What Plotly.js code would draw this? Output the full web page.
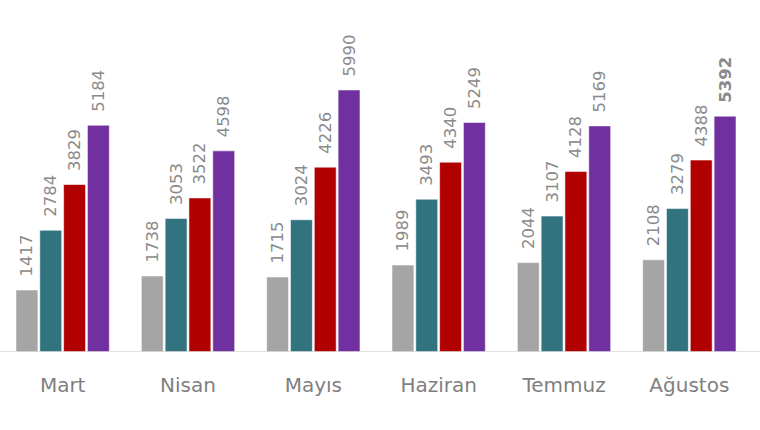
<!DOCTYPE html>
<html>
<head>
<meta charset="utf-8">
<script src="https://cdn.plot.ly/plotly-3.0.1.min.js"></script>
<style>
  html, body { margin: 0; padding: 0; background: #fff; }
  #chart { width: 760px; height: 430px; }
</style>
</head>
<body>
<div id="chart"></div>
<script>
// months on the x axis
const months = ["Mart", "Nisan", "Mayıs", "Haziran", "Temmuz", "Ağustos"];

// four series, left to right in each group
const seriesA = [1417, 1738, 1715, 1989, 2044, 2108];
const seriesB = [2784, 3053, 3024, 3493, 3107, 3279];
const seriesC = [3829, 3522, 4226, 4340, 4128, 4388];
const seriesD = [5184, 4598, 5990, 5249, 5169, 5392];

const colors = ["#a5a5a5", "#31737f", "#b00000", "#7030a0"];

// leading no-break spaces push the rotated label a bit off the bar top
const PAD = "\u00A0\u00A0";

function barTrace(values, color, boldLast) {
  const labels = values.map((v, i) =>
    boldLast && i === values.length - 1 ? PAD + "<b>" + v + "</b>" : PAD + v);
  return {
    type: "bar",
    x: months,
    y: values,
    text: labels,
    textposition: "outside",
    textangle: -90,
    constraintext: "none",
    cliponaxis: false,
    textfont: { family: "DejaVu Sans, Verdana, sans-serif", size: 16.5, color: "#8a8a8a" },
    marker: { color, line: { color: "rgba(255,255,255,0.55)", width: 1 } },
    hoverinfo: "skip",
  };
}

const data = [
  barTrace(seriesA, colors[0]),
  barTrace(seriesB, colors[1]),
  barTrace(seriesC, colors[2]),
  barTrace(seriesD, colors[3], true),
];

Plotly.newPlot("chart", data, {
  width: 760,
  height: 430,
  barmode: "group",
  bargap: 0.24,
  bargroupgap: 0.08,
  showlegend: false,
  paper_bgcolor: "#fff",
  plot_bgcolor: "#fff",
  margin: { t: 0, b: 78, l: 0, r: 8 },
  font: { family: "DejaVu Sans, Verdana, sans-serif", color: "#7f7f7f" },
  xaxis: {
    type: "category",
    showline: false,
    showgrid: false,
    ticks: "",
    ticklabelstandoff: 19,
    tickfont: { size: 20, color: "#7f7f7f" },
    fixedrange: true,
  },
  yaxis: {
    range: [0, 8047],
    visible: false,
    showgrid: false,
    zeroline: false,
    fixedrange: true,
  },
  shapes: [{
    type: "line",
    xref: "paper", yref: "y",
    x0: -0.01, x1: 1.02, y0: 0, y1: 0,
    line: { color: "#d9d9d9", width: 1.5 },
  }],
}, { displayModeBar: false, staticPlot: true });
</script>
</body>
</html>
